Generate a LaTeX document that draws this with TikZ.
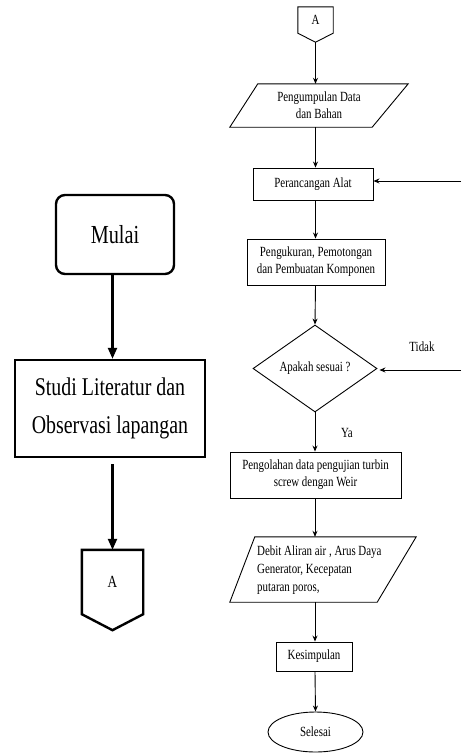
\documentclass[tikz,border=0pt]{standalone}
\usepackage{fontspec}
\setmainfont[FakeStretch=0.78]{Liberation Serif}
\usetikzlibrary{shapes.geometric,arrows.meta}
\begin{document}
\begin{tikzpicture}[x=1pt,y=-1pt,
  rbox/.style={draw,line width=0.9pt,inner sep=0pt,align=center,font=\fontsize{14}{17}\selectfont},
  lbox/.style={draw,line width=2.4pt,inner sep=0pt,align=center},
  ghost/.style={inner sep=0pt,align=center},
  rarr/.style={-{Stealth[length=6pt,width=5pt]},line width=0.9pt},
  larr/.style={-{Triangle[length=11pt,width=9pt]},line width=2.2pt},
  lbl/.style={inner sep=0pt,font=\fontsize{14}{17}\selectfont}]
\useasboundingbox (0,0) rectangle (461,753);
% ---------- left column ----------
\node[lbox,rounded corners=9pt,minimum width=118pt,minimum height=79pt,font=\fontsize{26}{30}\selectfont] (mulai) at (115,234.5) {Mulai};
\node[lbox,minimum width=190pt,minimum height=97pt,font=\fontsize{25.5}{38}\selectfont] (studi) at (110,408.5) {Studi Literatur dan\\Observasi lapangan};
\node[ghost,minimum width=61pt,minimum height=64pt,font=\fontsize{17}{20}\selectfont] (a2) at (112.5,582) {A};
\draw[line width=2.4pt,line join=miter] (a2.north west) -- (a2.north east) -- (a2.south east) -- ([yshift=-16pt]a2.south) -- (a2.south west) -- cycle;
\coordinate (a2tip) at ([yshift=-16pt]a2.south);
\draw[larr] (mulai.south -| 112.5,0) -- (studi.north -| 112.5,0);
\draw[larr] ([yshift=-6pt]studi.south -| 112.5,0) -- (a2.north);
% ---------- right column ----------
\node[ghost,minimum width=35pt,minimum height=26pt,font=\fontsize{14}{17}\selectfont] (a1) at (315.5,20) {A};
\draw[line width=0.9pt] (a1.north west) -- (a1.north east) -- (a1.south east) -- ([yshift=-9pt]a1.south) -- (a1.south west) -- cycle;
\coordinate (a1tip) at ([yshift=-9pt]a1.south);
% parallelogram 1
\node[ghost,minimum width=178pt,minimum height=43pt,font=\fontsize{14}{17}\selectfont] (p1) at (319,105.5) {Pengumpulan Data\\dan Bahan};
\draw[line width=0.9pt] ([xshift=28pt]p1.north west) -- (p1.north east) -- ([xshift=-36pt]p1.south east) -- (p1.south west) -- cycle;
\node[rbox,minimum width=120pt,minimum height=32pt] (r1) at (313,184) {Perancangan Alat};
\node[rbox,minimum width=138pt,minimum height=46pt] (r2) at (316,262) {Pengukuran, Pemotongan\\dan Pembuatan Komponen};
\node[draw,diamond,line width=0.9pt,inner sep=0pt,minimum width=124pt,minimum height=87pt,aspect=1.43,font=\fontsize{14}{17}\selectfont] (d) at (315,368.5) {Apakah sesuai ?};
\node[rbox,minimum width=171pt,minimum height=46pt] (r3) at (315.5,475) {Pengolahan data pengujian turbin\\screw dengan Weir};
% parallelogram 2
\node[ghost,minimum width=186pt,minimum height=65pt] (p2) at (323,569.5) {};
\draw[line width=0.9pt] ([xshift=25pt]p2.north west) -- (p2.north east) -- ([xshift=-39pt]p2.south east) -- (p2.south west) -- cycle;
\node[lbl,anchor=west,align=left,font=\fontsize{14}{18}\selectfont] (p2t) at (257,570) {Debit Aliran air , Arus Daya\\Generator, Kecepatan\\putaran poros,};
\node[rbox,minimum width=76pt,minimum height=29pt] (r4) at (314,656.5) {Kesimpulan};
\node[draw,ellipse,line width=0.9pt,inner sep=0pt,minimum width=95pt,minimum height=40pt,font=\fontsize{14}{17}\selectfont] (e) at (315.5,732) {Selesai};
% connectors
\coordinate (fb1) at (461,181);
\coordinate (fb2) at (461,370);
\draw[rarr] (a1tip) -- (p1.north -| a1tip);
\draw[rarr] (p1.south -| a1tip) -- (r1.north -| a1tip);
\draw[rarr] (r1.south -| a1tip) -- (r2.north -| a1tip);
\draw[rarr] (r2.south -| a1tip) -- (d.north);
\draw[rarr] (d.south) -- (r3.north -| d.south);
\draw[rarr] (r3.south -| d.south) -- (p2.north -| d.south);
\draw[rarr] (p2.south -| d.south) -- (r4.north -| d.south);
\draw[rarr] (r4.south -| d.south) -- (e.north);
\draw[rarr] (fb1) -- (r1.east |- fb1);
\draw[rarr] (fb2) -- ([xshift=2pt]d.east |- fb2);
\node[lbl] (tidak) at (422,347) {Tidak};
\node[lbl] (ya) at (347,433) {Ya};
\end{tikzpicture}
\end{document}
